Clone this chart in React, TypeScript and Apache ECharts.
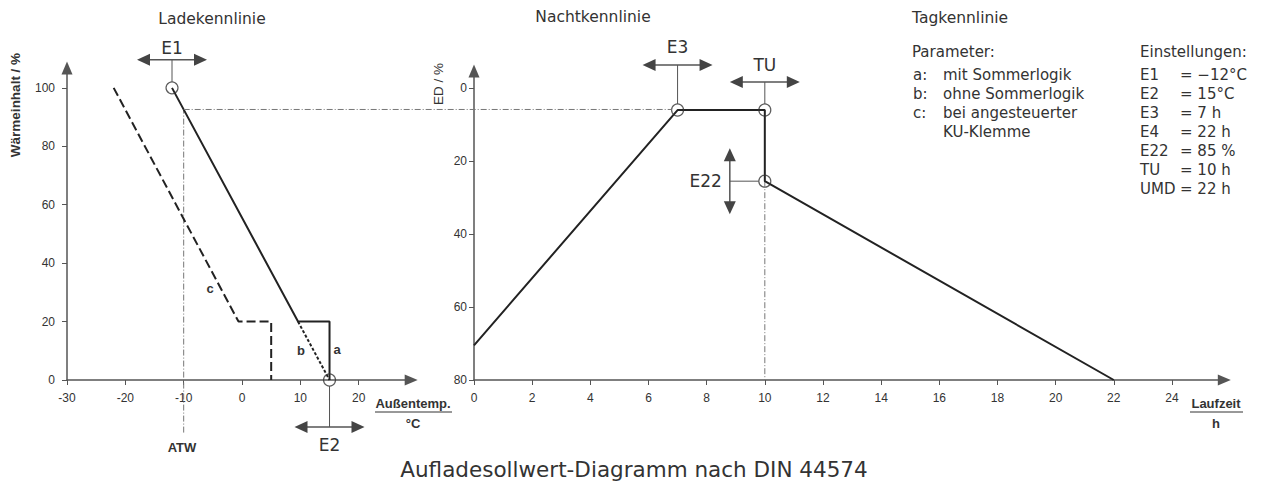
import React, { useEffect, useRef } from "react";
import * as echarts from "echarts";

// ---------- data ----------
const tempTicks = [-30, -20, -10, 0, 10, 20];
const heatTicks = [0, 20, 40, 60, 80, 100];
const timeTicks = [0, 2, 4, 6, 8, 10, 12, 14, 16, 18, 20, 22, 24];
const edTicks = [0, 20, 40, 60, 80];

// Ladekennlinie (x: Außentemperatur °C, y: Wärmeinhalt %)
const curveA = [[-12, 100], [9.6, 20], [15, 20], [15, 0]];
const curveB = [[9.6, 20], [15, 0]];
const curveC = [[-22, 100], [-0.6, 20], [5, 20], [5, 0]];
const atwLine = [[-10, -18], [-10, 92.6]];
const ladePoints = [[-12, 100], [15, 0]];

// Nachtkennlinie (x: Laufzeit h, y: ED %)
const nachtCurve = [[0, 70.5], [7, 6], [10, 6], [10, 25.5], [22, 80]];
const tuLine = [[10, 25.5], [10, 80]];
const nachtPoints = [[7, 6], [10, 6], [10, 25.5]];

// annotation anchors
const e1Point = [-12, 100];
const e2Point = [15, 0];
const e3Point = [7, 6];
const tuPoint = [10, 6];
const e22Point = [10, 25.5];
const linkLeft = [-10, 92.6];
const linkRight = [7, 6];

const parameterKeys = ["a:", "b:", "c:", ""];
const parameterTexts = ["mit Sommerlogik", "ohne Sommerlogik", "bei angesteuerter", "KU-Klemme"];
const settingNames = ["E1", "E2", "E3", "E4", "E22", "TU", "UMD"];
const settingValues = ["= −12°C", "= 15°C", "= 7 h", "= 22 h", "= 85 %", "= 10 h", "= 22 h"];

// ---------- styles ----------
const AX = "#555";
const INK = "#222";
const GUIDE = "#777";
const TXT = "#333";
const SANS = "Liberation Sans, Arial, sans-serif";
const WIDE = "DejaVu Sans, sans-serif";

function axisCommon(ticks: number[], margin: number) {
  return {
    axisLine: {
      show: true,
      onZero: false,
      symbol: ["none", "triangle"],
      symbolSize: [11, 13],
      lineStyle: { color: AX, width: 1.5 },
    },
    axisTick: { show: true, customValues: ticks, length: 5, lineStyle: { color: AX, width: 1 } },
    axisLabel: { customValues: ticks, fontSize: 12, color: TXT, margin, fontFamily: SANS },
    splitLine: { show: false },
  };
}

export default function App() {
  const ref = useRef<HTMLDivElement>(null);

  useEffect(() => {
    const chart = echarts.init(ref.current!, null, { renderer: "svg" });
    const option: any = {
      animation: false,
      backgroundColor: "#fff",
      grid: [
        { left: 67, top: 68, width: 344.2, height: 312 },
        { left: 474, top: 71, width: 750.3, height: 309 },
      ],
      xAxis: [
        { type: "value", gridIndex: 0, min: -30, max: 29, ...axisCommon(tempTicks, 12) },
        { type: "value", gridIndex: 1, min: 0, max: 25.8, ...axisCommon(timeTicks, 12) },
      ],
      yAxis: [
        { type: "value", gridIndex: 0, min: 0, max: 106.8, ...axisCommon(heatTicks, 12) },
        { type: "value", gridIndex: 1, min: -4.7, max: 80, inverse: true, ...axisCommon(edTicks, 7) },
      ],
      series: [
        {
          type: "line", xAxisIndex: 0, yAxisIndex: 0, data: curveA, symbol: "none",
          lineStyle: { color: INK, width: 2 }, z: 3,
        },
        {
          type: "line", xAxisIndex: 0, yAxisIndex: 0, data: curveB, symbol: "none",
          lineStyle: { color: INK, width: 2, type: [3, 2] }, z: 3,
        },
        {
          type: "line", xAxisIndex: 0, yAxisIndex: 0, data: curveC, symbol: "none",
          lineStyle: { color: INK, width: 2, type: [9, 4] }, z: 3,
        },
        {
          type: "line", xAxisIndex: 0, yAxisIndex: 0, data: atwLine, symbol: "none", clip: false,
          lineStyle: { color: GUIDE, width: 1, type: [6, 2, 1, 2] }, z: 2,
        },
        {
          type: "scatter", xAxisIndex: 0, yAxisIndex: 0, data: ladePoints, symbol: "circle", symbolSize: 12,
          itemStyle: { color: "transparent", borderColor: TXT, borderWidth: 1.2 }, z: 4,
        },
        {
          type: "line", xAxisIndex: 1, yAxisIndex: 1, data: nachtCurve, symbol: "none",
          lineStyle: { color: INK, width: 2 }, z: 3,
        },
        {
          type: "line", xAxisIndex: 1, yAxisIndex: 1, data: tuLine, symbol: "none",
          lineStyle: { color: GUIDE, width: 1, type: [6, 2, 1, 2] }, z: 2,
        },
        {
          type: "scatter", xAxisIndex: 1, yAxisIndex: 1, data: nachtPoints, symbol: "circle", symbolSize: 12,
          itemStyle: { color: "transparent", borderColor: TXT, borderWidth: 1.2 }, z: 4,
        },
      ],
    };
    chart.setOption(option);

    const L = (p: number[]) => chart.convertToPixel({ gridIndex: 0 }, p) as number[];
    const R = (p: number[]) => chart.convertToPixel({ gridIndex: 1 }, p) as number[];

    const g: any[] = [];
    const text = (t: string, x: number, y: number, o: any = {}) =>
      g.push({
        type: "text", x, y, rotation: o.rotation || 0, z: 10,
        style: {
          text: t, fill: o.fill || TXT, fontSize: o.size || 14, fontFamily: o.family || WIDE,
          fontWeight: o.weight || "normal", align: o.align || "left", verticalAlign: "middle",
        },
      });
    const line = (x1: number, y1: number, x2: number, y2: number, o: any = {}) =>
      g.push({
        type: "line", z: 9, shape: { x1, y1, x2, y2 },
        style: { stroke: o.stroke || AX, lineWidth: o.width || 1, lineDash: o.dash || null },
      });
    const head = (pts: number[][]) => g.push({ type: "polygon", z: 9, shape: { points: pts }, style: { fill: "#444" } });
    const hArrow = (cx: number, cy: number, half: number) => {
      line(cx - half + 8, cy, cx + half - 8, cy, { width: 1.5 });
      head([[cx - half, cy], [cx - half + 13, cy - 6], [cx - half + 13, cy + 6]]);
      head([[cx + half, cy], [cx + half - 13, cy - 6], [cx + half - 13, cy + 6]]);
    };
    const vArrow = (cx: number, cy: number, half: number) => {
      line(cx, cy - half + 8, cx, cy + half - 8, { width: 1.5 });
      head([[cx, cy - half], [cx - 6, cy - half + 13], [cx + 6, cy - half + 13]]);
      head([[cx, cy + half], [cx - 6, cy + half - 13], [cx + 6, cy + half - 13]]);
    };

    // link line from ATW to Nachtkennlinie
    const pl = L(linkLeft);
    const pr = R(linkRight);
    line(pl[0], pl[1], pr[0] - 6, pl[1], { stroke: GUIDE, dash: [6, 2, 1, 2] });

    // E1
    const p1 = L(e1Point);
    line(p1[0], p1[1] - 6, p1[0], p1[1] - 28);
    hArrow(p1[0], p1[1] - 28, 35);
    text("E1", p1[0], p1[1] - 40, { size: 17, align: "center" });
    // E2
    const p2 = L(e2Point);
    line(p2[0], p2[1] + 6, p2[0], p2[1] + 47);
    hArrow(p2[0], p2[1] + 47, 35);
    text("E2", p2[0], p2[1] + 65, { size: 17, align: "center" });
    // E3
    const p3 = R(e3Point);
    line(p3[0], p3[1] - 6, p3[0], p3[1] - 45);
    hArrow(p3[0], p3[1] - 45, 35);
    text("E3", p3[0], p3[1] - 63, { size: 17, align: "center" });
    // TU
    const pt = R(tuPoint);
    line(pt[0], pt[1] - 6, pt[0], pt[1] - 28);
    hArrow(pt[0], pt[1] - 28, 35);
    text("TU", pt[0], pt[1] - 45, { size: 17, align: "center" });
    // E22
    const p22 = R(e22Point);
    line(p22[0] - 6, p22[1], p22[0] - 35, p22[1]);
    vArrow(p22[0] - 35, p22[1], 33);
    text("E22", p22[0] - 43, p22[1], { size: 17, align: "right" });

    // headings
    text("Ladekennlinie", 212, 19, { size: 15.5, align: "center" });
    text("Nachtkennlinie", 593, 17, { size: 15.5, align: "center" });
    text("Tagkennlinie", 912, 18, { size: 15.5 });

    // axis names
    text("Wärmeinhalt / %", 15, 105, { size: 13.5, family: SANS, weight: "bold", rotation: Math.PI / 2, align: "center" });
    text("ED / %", 438, 84, { size: 13.5, family: SANS, rotation: Math.PI / 2, align: "center" });
    text("Außentemp.", 413, 403, { size: 13, family: SANS, weight: "bold", align: "center" });
    line(375, 412, 452, 412, { stroke: TXT });
    text("°C", 413, 423, { size: 13, family: SANS, weight: "bold", align: "center" });
    text("Laufzeit", 1216, 403, { size: 13, family: SANS, weight: "bold", align: "center" });
    line(1190, 412, 1243, 412, { stroke: TXT });
    text("h", 1216, 423, { size: 13, family: SANS, weight: "bold", align: "center" });
    text("ATW", 182, 447, { size: 13, family: SANS, weight: "bold", align: "center" });
    text("a", 337, 349, { size: 13, family: SANS, weight: "bold", align: "center" });
    text("b", 301, 350, { size: 13, family: SANS, weight: "bold", align: "center" });
    text("c", 210, 288, { size: 13, family: SANS, weight: "bold", align: "center" });

    // parameter & settings block
    text("Parameter:", 912, 52, { size: 15 });
    parameterKeys.forEach((k, i) => {
      if (k) text(k, 913, 75 + i * 19, { size: 15 });
      text(parameterTexts[i], 943, 75 + i * 19, { size: 15 });
    });
    text("Einstellungen:", 1140, 52, { size: 15 });
    settingNames.forEach((n, i) => {
      text(n, 1140, 75 + i * 19, { size: 15 });
      text(settingValues[i], 1180, 75 + i * 19, { size: 15 });
    });

    // caption
    text("Aufladesollwert-Diagramm nach DIN 44574", 634, 469, { size: 21.5, align: "center" });

    chart.setOption({ graphic: g });
    return () => chart.dispose();
  }, []);

  return (
    <div
      ref={ref}
      style={{ position: "fixed", left: 0, top: 0, width: 1267, height: 482, background: "#fff" }}
    />
  );
}
